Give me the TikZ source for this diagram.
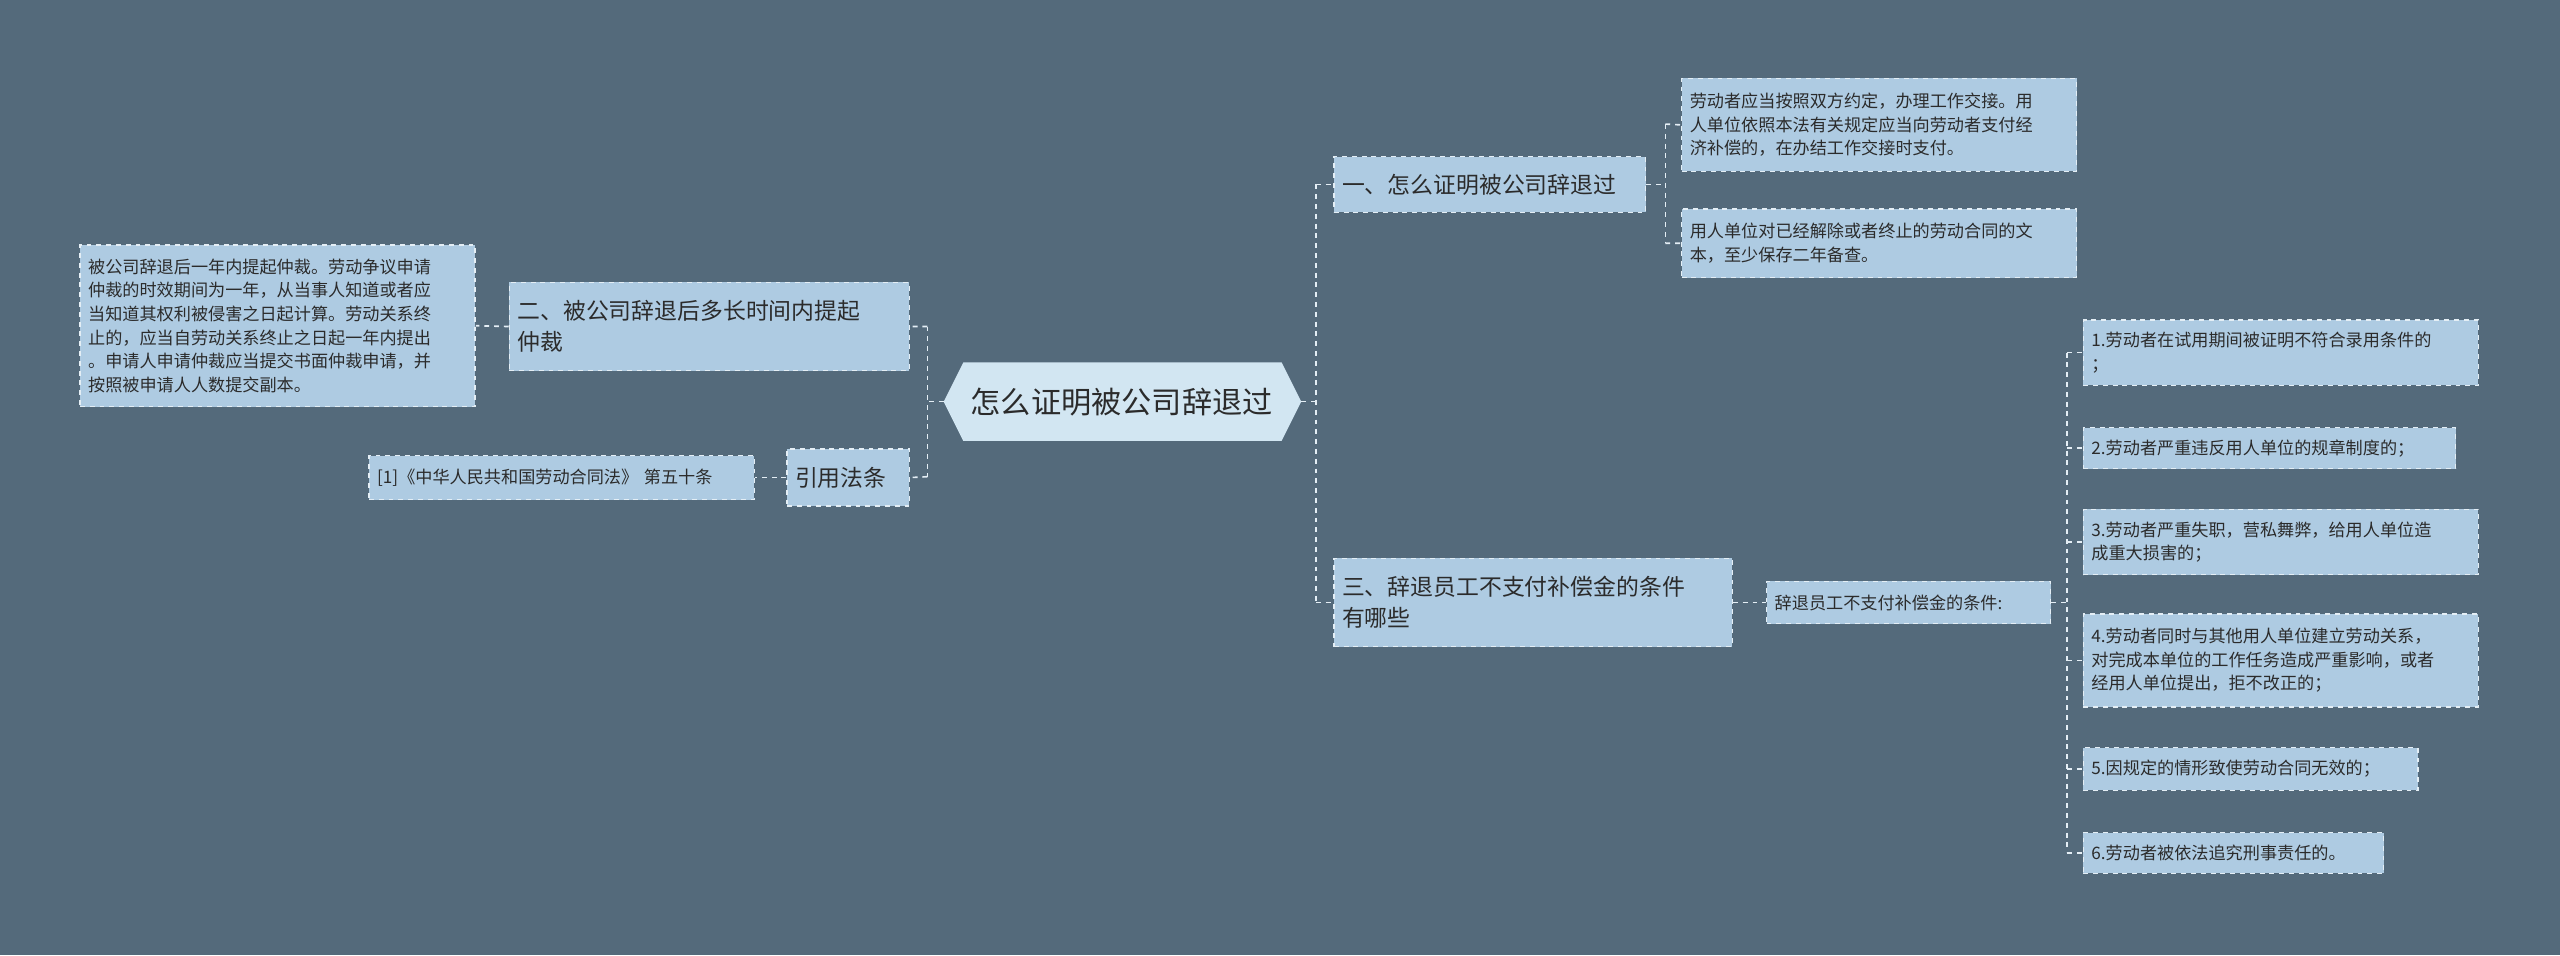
\documentclass[tikz,border=0pt]{standalone}
\usepackage{fontspec}
\setmainfont{Noto Sans CJK SC}
\usetikzlibrary{shapes.misc,shapes.geometric}
\definecolor{bg}{HTML}{546A7B}
\definecolor{boxc}{HTML}{AECBE2}
\definecolor{cen}{HTML}{D2E6F2}
\definecolor{txt}{HTML}{2B2B2B}
\definecolor{ln}{HTML}{E4EEF5}
\tikzset{
 box/.style={draw=ln,dashed,fill=boxc,text=txt,inner xsep=5pt,inner ysep=2pt,align=left,anchor=center,line width=0.8pt},
 sm/.style={box,font=\fontsize{10.5}{14.5}\selectfont},
 md/.style={box,font=\fontsize{14}{19}\selectfont},
 con/.style={draw=ln,dashed,line width=1pt},
}
\newcommand{\bx}[7]{% style,name,x1,y1,x2,y2,text
 \pgfmathsetmacro{\cx}{(#3+#5)/2}\pgfmathsetmacro{\cy}{(#4+#6)/2}
 \pgfmathsetmacro{\ww}{#5-#3}\pgfmathsetmacro{\hh}{#6-#4}\pgfmathsetmacro{\tw}{#5-#3-10}
 \node[#1,minimum width=\ww pt,minimum height=\hh pt,text width=\tw pt] (#2) at (\cx,\cy) {#7};}
\begin{document}
\begin{tikzpicture}[x=1pt,y=-1pt]
\fill[bg] (0,0) rectangle (1568,585);
\useasboundingbox (0,0) rectangle (1568,585);
% central
\fill[cen] (590,222) -- (785,222) -- (797,246) -- (785,270) -- (590,270) -- (578,246) -- cycle;
\node[text=txt,font=\fontsize{18.5}{22}\selectfont] (c) at (687,246) {怎么证明被公司辞退过};
\coordinate (cr) at (797,246); \coordinate (cl) at (578,246);
% right
\bx{md}{b1}{817}{96}{1008}{130}{一、怎么证明被公司辞退过}
\bx{sm}{b1a}{1030}{48}{1272}{105}{劳动者应当按照双方约定，办理工作交接。用\\人单位依照本法有关规定应当向劳动者支付经\\济补偿的，在办结工作交接时支付。}
\bx{sm}{b1b}{1030}{128}{1272}{170}{用人单位对已经解除或者终止的劳动合同的文\\本，至少保存二年备查。}
\bx{md}{b3}{817}{342}{1061}{396}{三、辞退员工不支付补偿金的条件\\有哪些}
\bx{sm}{b3a}{1082}{356}{1256}{382}{辞退员工不支付补偿金的条件:}
\bx{sm}{k1}{1276}{196}{1518}{236}{1.劳动者在试用期间被证明不符合录用条件的\\；}
\bx{sm}{k2}{1276}{262}{1504}{287}{2.劳动者严重违反用人单位的规章制度的；}
\bx{sm}{k3}{1276}{312}{1518}{352}{3.劳动者严重失职，营私舞弊，给用人单位造\\成重大损害的；}
\bx{sm}{k4}{1276}{376}{1518}{433}{4.劳动者同时与其他用人单位建立劳动关系，\\对完成本单位的工作任务造成严重影响，或者\\经用人单位提出，拒不改正的；}
\bx{sm}{k5}{1276}{458}{1481}{484}{5.因规定的情形致使劳动合同无效的；}
\bx{sm}{k6}{1276}{510}{1460}{535}{6.劳动者被依法追究刑事责任的。}
% left
\bx{md}{b2}{312}{173}{557}{227}{二、被公司辞退后多长时间内提起\\仲裁}
\bx{sm}{b2a}{49}{150}{291}{249}{被公司辞退后一年内提起仲裁。劳动争议申请\\仲裁的时效期间为一年，从当事人知道或者应\\当知道其权利被侵害之日起计算。劳动关系终\\止的，应当自劳动关系终止之日起一年内提出\\。申请人申请仲裁应当提交书面仲裁申请，并\\按照被申请人人数提交副本。}
\bx{md}{b4}{482}{275}{557}{310}{引用法条}
\bx{sm}{b4a}{226}{279}{462}{306}{[1]《中华人民共和国劳动合同法》 第五十条}
% connectors
\draw[con] (cr) -- (806,246) (806,113) -- (806,369);
\draw[con] (806,113) -- (b1.west) (806,369) -- (b3.west);
\draw[con] (cl) -- (568,246) (568,200) -- (568,292);
\draw[con] (568,200) -- (b2.east) (568,292) -- (b4.east);
\draw[con] (b1.east) -- (1020,113) (1020,76) -- (1020,149);
\draw[con] (1020,76) -- (b1a.west) (1020,149) -- (b1b.west);
\draw[con] (b2.west) -- (b2a.east);
\draw[con] (b4.west) -- (b4a.east);
\draw[con] (b3.east) -- (b3a.west);
\draw[con] (b3a.east) -- (1266,369) (1266,216) -- (1266,522);
\foreach \k/\y in {k1/216,k2/274.5,k3/332,k4/404.5,k5/471,k6/522.5}{\draw[con] (1266,\y) -- (\k.west);}
\end{tikzpicture}
\end{document}
